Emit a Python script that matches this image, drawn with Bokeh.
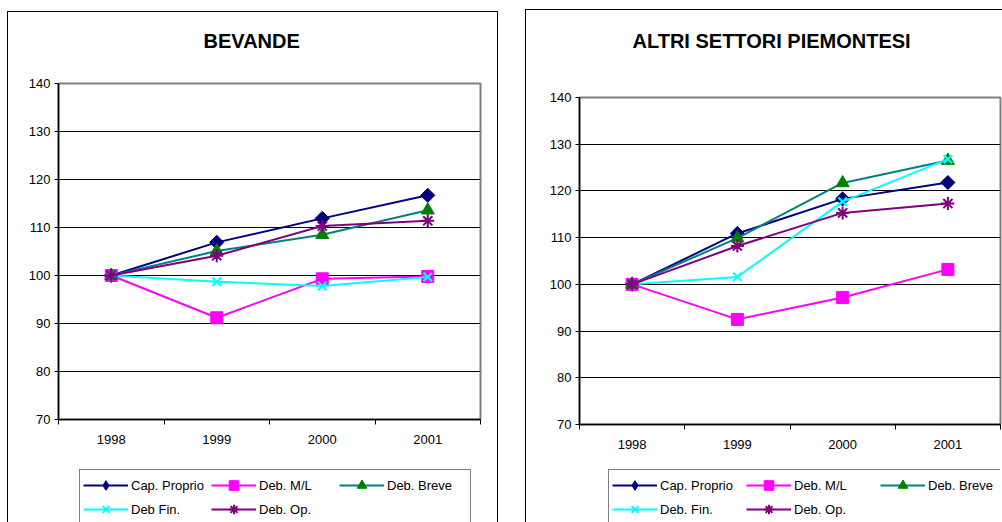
import math
from bokeh.plotting import figure
from bokeh.layouts import row, column
from bokeh.models import (Range1d, FixedTicker, Legend, LegendItem, Spacer, Title)
from bokeh.embed import file_html
from bokeh.resources import INLINE

years = ["1998", "1999", "2000", "2001"]
series_names_left = ["Cap. Proprio", "Deb. M/L", "Deb. Breve", "Deb Fin.", "Deb. Op."]
series_names_right = ["Cap. Proprio", "Deb. M/L", "Deb. Breve", "Deb. Fin.", "Deb. Op."]

# BEVANDE
bev_cap_proprio = [100, 106.9, 111.9, 116.7]
bev_deb_ml = [100, 91.2, 99.3, 99.8]
bev_deb_breve = [100, 105.1, 108.5, 113.6]
bev_deb_fin = [100, 98.7, 97.8, 99.7]
bev_deb_op = [100, 104.1, 110.3, 111.4]

# ALTRI SETTORI PIEMONTESI
alt_cap_proprio = [100, 110.9, 118.3, 121.8]
alt_deb_ml = [100, 92.5, 97.2, 103.2]
alt_deb_breve = [100, 109.9, 121.7, 126.5]
alt_deb_fin = [100, 101.6, 117.7, 126.8]
alt_deb_op = [100, 108.2, 115.3, 117.3]

y_ticks = [70, 80, 90, 100, 110, 120, 130, 140]

FONT = "Liberation Sans"
line_colors = ["#000080", "#FF00FF", "#008080", "#00FFFF", "#800080"]
marker_colors = ["#000080", "#FF00FF", "#008000", "#00FFFF", "#800080"]
markers = ["square", "square", "triangle", "x", "asterisk"]
legend_markers = ["diamond", "square", "triangle", "x", "asterisk"]
marker_sizes = [10, 12, 13, 12, 13]
marker_angles = [math.pi / 4, 0, 0, 0, 0]


def add_series(p, xs, vals, i, marker_list):
    lr = p.line(xs, vals, line_color=line_colors[i], line_width=2)
    sr = p.scatter(xs, vals, marker=marker_list[i], size=marker_sizes[i], angle=marker_angles[i],
                   fill_color=marker_colors[i], line_color=marker_colors[i],
                   line_width=2 if marker_list[i] in ("x", "asterisk") else 1)
    return lr, sr


def make_panel(title, names, data, width, chart_h, leg_h, mb_left, mb_right, mb_top, mb_bottom,
               title_offset, title_gap, leg_loc, label_width, borders, margin):
    xs = [i + 0.5 for i in range(len(years))]
    p = figure(width=width, height=chart_h, output_backend="svg", toolbar_location=None,
               x_range=Range1d(0, len(years)), y_range=Range1d(y_ticks[0], y_ticks[-1]),
               min_border_left=mb_left, min_border_right=mb_right,
               min_border_top=mb_top, min_border_bottom=mb_bottom)
    p.title.text = ""
    # blank spacer between frame and title, then the title itself
    p.add_layout(Title(text=" ", text_font=FONT, text_font_size="1px", standoff=title_gap), "above")
    p.add_layout(Title(text=title, align="left", text_font=FONT, text_font_size="20px",
                       text_font_style="bold", text_color="black", offset=title_offset,
                       standoff=10), "above")
    p.outline_line_color = "#808080"
    p.outline_line_width = 2
    p.background_fill_color = "white"
    p.border_fill_color = "white"

    # x axis: labels at category centres, ticks at category boundaries
    p.xaxis.ticker = FixedTicker(ticks=xs, minor_ticks=list(range(len(years) + 1)))
    p.xaxis.major_label_overrides = {x: y for x, y in zip(xs, years)}
    p.xaxis.major_tick_line_color = None
    p.xaxis.minor_tick_line_color = "black"
    p.xaxis.minor_tick_out = 5
    p.xaxis.minor_tick_in = 0
    p.xaxis.minor_tick_line_width = 1
    p.xaxis.major_label_standoff = 9
    # y axis
    p.yaxis.ticker = FixedTicker(ticks=y_ticks)
    p.yaxis.minor_tick_line_color = None
    p.yaxis.major_tick_out = 4
    p.yaxis.major_tick_in = 0
    p.yaxis.major_label_standoff = 4
    for ax in (p.xaxis, p.yaxis):
        ax.axis_line_color = "black"
        ax.axis_line_width = 1.5
        ax.major_label_text_font = FONT
        ax.major_label_text_font_size = "13px"
        ax.major_label_text_color = "black"
        ax.major_tick_line_width = 1
    p.xgrid.visible = False
    p.ygrid.ticker = FixedTicker(ticks=y_ticks[1:-1])
    p.ygrid.grid_line_color = "black"
    p.ygrid.grid_line_width = 1

    for i, vals in enumerate(data):
        add_series(p, xs, vals, i, markers)

    # legend figure (its frame is aligned with the chart frame; legend clipped at bottom edge)
    pl = figure(width=width, height=leg_h, output_backend="svg", toolbar_location=None,
                x_range=Range1d(-20, -19), y_range=Range1d(-20, -19),
                x_axis_location=None, y_axis_location=None,
                min_border_left=0, min_border_right=0, min_border_top=0, min_border_bottom=0)
    pl.outline_line_color = None
    pl.xgrid.visible = False
    pl.ygrid.visible = False
    pl.background_fill_color = "white"
    pl.border_fill_color = "white"
    items = []
    for i, (name, vals) in enumerate(zip(names, data)):
        lr, sr = add_series(pl, xs, vals, i, legend_markers)
        items.append(LegendItem(label=name, renderers=[lr, sr]))
    leg = Legend(items=items, location=leg_loc, orientation="horizontal", ncols=3,
                 glyph_width=45, glyph_height=24, label_height=24, label_width=label_width,
                 label_standoff=3, padding=3, spacing=0, margin=0,
                 border_line_color="black", border_line_width=1,
                 background_fill_color="white", background_fill_alpha=1,
                 label_text_font=FONT, label_text_font_size="13px", label_text_color="black")
    pl.add_layout(leg, "center")

    col = column(p, pl, spacing=0)
    col.styles = borders
    col.margin = margin
    return col


c1 = make_panel("BEVANDE", series_names_left,
                [bev_cap_proprio, bev_deb_ml, bev_deb_breve, bev_deb_fin, bev_deb_op],
                width=489, chart_h=448, leg_h=62, mb_left=50, mb_right=17, mb_top=71, mb_bottom=41,
                title_offset=145, title_gap=24, leg_loc=(21, -3), label_width=80,
                borders={"border-left": "1px solid black", "border-top": "1px solid black",
                         "border-right": "1px solid black"}, margin=(11, 0, 0, 7))

c2 = make_panel("ALTRI SETTORI PIEMONTESI", series_names_right,
                [alt_cap_proprio, alt_deb_ml, alt_deb_breve, alt_deb_fin, alt_deb_op],
                width=476, chart_h=450, leg_h=62, mb_left=53, mb_right=2, mb_top=87, mb_bottom=36,
                title_offset=53, title_gap=38, leg_loc=(29, -3), label_width=86,
                borders={"border-left": "1px solid black", "border-top": "1px solid black"},
                margin=(9, 0, 0, 0))

layout = row(c1, Spacer(width=27, height=10), c2)

open("out.html", "w").write(file_html(layout, INLINE))
